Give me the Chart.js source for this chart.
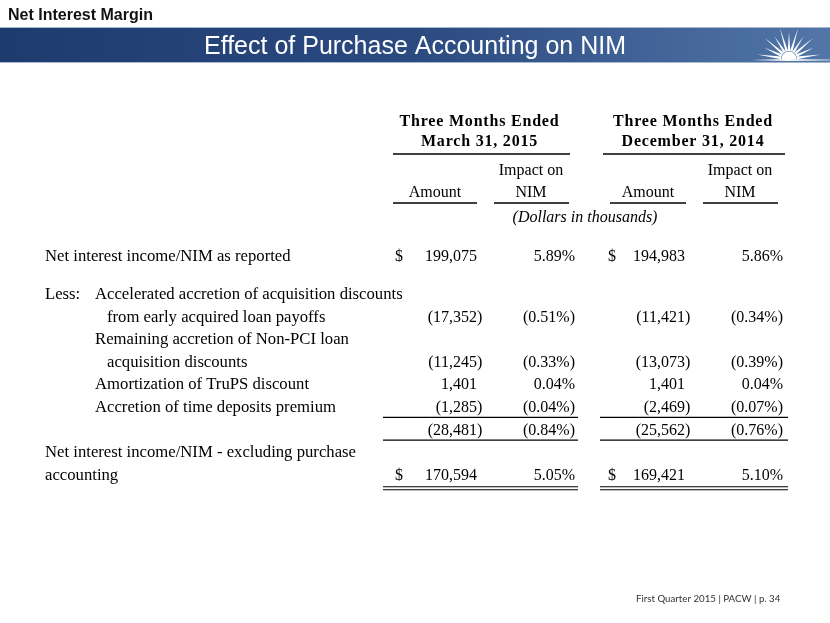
<!DOCTYPE html>
<html>
<head>
<meta charset="utf-8">
<title>Effect of Purchase Accounting on NIM</title>
<script src="https://cdn.jsdelivr.net/npm/chart.js@4.4.1/dist/chart.umd.min.js"></script>
<style>
html, body { margin: 0; padding: 0; background: #fff; }
#wrap { position: relative; width: 830px; height: 623px; }
</style>
</head>
<body>
<div id="wrap"><canvas id="nimChart"></canvas></div>
<script>
// values in thousands of dollars / percent of NIM
var periods = ['Three Months Ended|March 31, 2015', 'Three Months Ended|December 31, 2014'];
var rowLabels = [
  'Net interest income/NIM as reported',
  'Accelerated accretion of acquisition discounts|from early acquired loan payoffs',
  'Remaining accretion of Non-PCI loan|acquisition discounts',
  'Amortization of TruPS discount',
  'Accretion of time deposits premium',
  '',
  'Net interest income/NIM - excluding purchase|accounting'
];
var amountMar15 = [199075, -17352, -11245, 1401, -1285, -28481, 170594];
var nimMar15 = [5.89, -0.51, -0.33, 0.04, -0.04, -0.84, 5.05];
var amountDec14 = [194983, -11421, -13073, 1401, -2469, -25562, 169421];
var nimDec14 = [5.86, -0.34, -0.39, 0.04, -0.07, -0.76, 5.10];

// layout: table lines (one line = 22.6px), line 0 is the first row
var LINE = 22.6, TOP0 = 256;
var rowLine = [0, 2.68, 4.68, 5.68, 6.68, 7.68, 9.68];
var indent = [0, 1, 1, 1, 1, 0, 0];
var colX = { amt1: 477, nim1: 575, amt2: 685, nim2: 783 };
var dollarX = [395, 608];
var spans = [[383, 578], [600, 788]];
var serif = '"Liberation Serif", "Times New Roman", serif';

function pts(vals, x) {
  return vals.map(function (v, i) { return { x: x, y: rowLine[i], v: v }; });
}

function fmtAmount(v) {
  return Math.abs(v).toLocaleString('en-US');
}

var tablePlugin = {
  id: 'nimTable',
  beforeDraw: function (chart) {
    var ctx = chart.ctx;
    ctx.save();
    // section title
    ctx.fillStyle = '#111';
    ctx.font = 'bold 16px "Liberation Sans", Arial, sans-serif';
    ctx.textBaseline = 'alphabetic';
    ctx.fillText('Net Interest Margin', 8, 20);
    // blue banner
    var g = ctx.createLinearGradient(0, 0, 830, 0);
    g.addColorStop(0, '#1e3b6e');
    g.addColorStop(0.5, '#2b4a80');
    g.addColorStop(1, '#5276a8');
    ctx.fillStyle = g;
    ctx.fillRect(0, 27, 830, 36);
    ctx.fillStyle = '#a9b7cc';
    ctx.fillRect(0, 27, 830, 1);
    ctx.fillRect(0, 62, 830, 1);
    ctx.fillStyle = '#fff';
    ctx.font = '25px "Liberation Sans", Arial, sans-serif';
    ctx.textAlign = 'center';
    ctx.fillText('Effect of Purchase Accounting on NIM', 415, 54);
    // sunburst logo
    var cx = 789, cy = 59;
    for (var k = 0; k < 11; k++) {
      var a = Math.PI + (k + 0.5) * Math.PI / 11;
      var len = (k % 2 === 0) ? 32 : 27;
      var w = 0.16;
      ctx.beginPath();
      ctx.moveTo(cx + Math.cos(a - w) * 8, cy + Math.sin(a - w) * 8);
      ctx.lineTo(cx + Math.cos(a) * len, cy + Math.sin(a) * len);
      ctx.lineTo(cx + Math.cos(a + w) * 8, cy + Math.sin(a + w) * 8);
      ctx.closePath();
      ctx.fill();
    }
    ctx.beginPath();
    ctx.arc(cx, cy, 7.5, Math.PI, 0);
    ctx.fill();
    var hg = ctx.createLinearGradient(752, 0, 830, 0);
    hg.addColorStop(0, 'rgba(255,255,255,0)');
    hg.addColorStop(0.45, 'rgba(255,255,255,1)');
    hg.addColorStop(1, 'rgba(255,255,255,0.3)');
    ctx.fillStyle = hg;
    ctx.fillRect(752, 59, 78, 2);
    // footer
    ctx.fillStyle = '#333';
    ctx.textAlign = 'left';
    ctx.font = '9.7px Lato, sans-serif';
    ctx.fillText('First Quarter 2015 | PACW | p. 34', 636, 602);
    ctx.restore();
  },
  afterDatasetsDraw: function (chart) {
    var ctx = chart.ctx, y = chart.scales.y;
    function py(line) { return y.getPixelForValue(line); }
    function hline(x0, x1, yy) {
      ctx.beginPath();
      ctx.moveTo(x0, yy);
      ctx.lineTo(x1, yy);
      ctx.stroke();
    }
    ctx.save();
    ctx.fillStyle = '#000';
    ctx.strokeStyle = '#000';
    ctx.textBaseline = 'alphabetic';

    // column headers
    ctx.font = 'bold 16px ' + serif;
    ctx.letterSpacing = '0.8px';
    ctx.textAlign = 'center';
    periods.forEach(function (p, i) {
      var parts = p.split('|');
      var mid = (spans[i][0] + spans[i][1]) / 2 - 1;
      ctx.fillText(parts[0], mid, py(-5.97) + 5);
      ctx.fillText(parts[1], mid, py(-5.09) + 5);
    });
    ctx.letterSpacing = '0px';
    ctx.lineWidth = 1.6;
    hline(393, 570, 154);
    hline(603, 785, 154);
    ctx.font = '16px ' + serif;
    [[435, 531], [648, 740]].forEach(function (c) {
      ctx.fillText('Amount', c[0], py(-2.83) + 5);
      ctx.fillText('Impact on', c[1], py(-3.81) + 5);
      ctx.fillText('NIM', c[1], py(-2.83) + 5);
    });
    hline(393, 477, 203);
    hline(494, 569, 203);
    hline(610, 686, 203);
    hline(703, 778, 203);
    ctx.font = 'italic 16px ' + serif;
    ctx.fillText('(Dollars in thousands)', 585, py(-1.73) + 5);

    // row labels
    ctx.font = '16.7px ' + serif;
    ctx.textAlign = 'left';
    rowLabels.forEach(function (lab, i) {
      if (!lab) return;
      var lines = lab.split('|');
      var first = rowLine[i] - (lines.length - 1);
      lines.forEach(function (t, j) {
        var x = indent[i] ? (j === 0 ? 95 : 107) : 45;
        ctx.fillText(t, x, py(first + j) + 5);
      });
    });
    ctx.fillText('Less:', 45, py(rowLine[1] - 1) + 5);

    // dollar signs on first and last rows
    ctx.font = '16px ' + serif;
    [0, rowLine.length - 1].forEach(function (i) {
      dollarX.forEach(function (dx) { ctx.fillText('$', dx, py(rowLine[i]) + 5); });
    });

    // cell values
    chart.data.datasets.forEach(function (ds, di) {
      var meta = chart.getDatasetMeta(di);
      meta.data.forEach(function (el, i) {
        var v = ds.data[i].v, yy = el.y + 5;
        if (ds.kind === 'amount') {
          ctx.textAlign = 'right';
          ctx.fillText((v < 0 ? '(' : '') + fmtAmount(v), el.x, yy);
          if (v < 0) { ctx.textAlign = 'left'; ctx.fillText(')', el.x, yy); }
        } else {
          ctx.textAlign = 'right';
          var s = Math.abs(v).toFixed(2) + '%';
          ctx.fillText(v < 0 ? '(' + s + ')' : s, el.x, yy);
        }
      });
    });

    // totals rules
    ctx.lineWidth = 1.2;
    spans.forEach(function (s) {
      hline(s[0], s[1], py(rowLine[4]) + 10.5);
      hline(s[0], s[1], py(rowLine[5]) + 10.5);
      hline(s[0], s[1], py(rowLine[6]) + 12);
      hline(s[0], s[1], py(rowLine[6]) + 15);
    });
    ctx.restore();
  }
};

var ctx = document.getElementById('nimChart').getContext('2d');
var chart = new Chart(ctx, {
  type: 'scatter',
  data: {
    datasets: [
      { label: 'Amount Mar 2015', kind: 'amount', data: pts(amountMar15, colX.amt1) },
      { label: 'NIM Mar 2015', kind: 'nim', data: pts(nimMar15, colX.nim1) },
      { label: 'Amount Dec 2014', kind: 'amount', data: pts(amountDec14, colX.amt2) },
      { label: 'NIM Dec 2014', kind: 'nim', data: pts(nimDec14, colX.nim2) }
    ]
  },
  options: {
    responsive: true,
    maintainAspectRatio: false,
    animation: false,
    layout: { padding: 0 },
    elements: { point: { radius: 0, hoverRadius: 0 } },
    plugins: { legend: { display: false }, tooltip: { enabled: false } },
    scales: {
      x: { type: 'linear', min: 0, max: 830, display: false },
      y: { type: 'linear', reverse: true, min: -TOP0 / LINE, max: (623 - TOP0) / LINE, display: false }
    }
  },
  plugins: [tablePlugin]
});
</script>
</body>
</html>
